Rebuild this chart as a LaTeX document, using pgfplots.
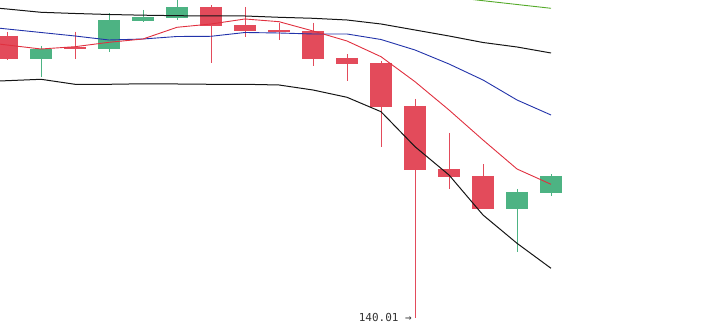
\documentclass[border=0pt]{standalone}
\usepackage{pgfplots}
\pgfplotsset{compat=1.18}
\usepackage{pgfplotstable}
\usepackage{fontspec}
\setmainfont{DejaVu Sans}
\setmonofont{DejaVu Sans Mono}
\definecolor{cred}{HTML}{E34B5B}
\definecolor{cgreen}{HTML}{4DB383}
\definecolor{lblue}{HTML}{2233AA}
\definecolor{lred}{HTML}{E0303F}
\definecolor{lgreen}{HTML}{55AA2A}
\definecolor{lblack}{HTML}{151515}

% red candles: open > close
\pgfplotstableread{
x   open    high    low     close
7   168.21  168.61  165.81  165.94
75  167.11  168.64  165.91  166.94
211 171.11  171.28  165.54  169.24
245 169.31  171.11  168.14  168.74
279 168.81  169.54  167.84  168.61
313 168.71  169.54  165.24  165.94
347 166.01  166.38  163.68  165.44
381 165.51  165.71  157.14  161.14
415 161.21  161.91  140.01  154.84
449 154.91  158.51  152.94  154.14
483 154.21  155.38  150.94  150.94
}\redc
% green candles: close > open
\pgfplotstableread{
x   open    high    low     close
41  165.94  167.21  164.14  166.91
109 166.94  170.48  166.64  169.81
143 169.74  170.81  169.61  170.11
177 170.04  172.01  169.84  171.11
517 150.94  152.91  146.64  152.61
551 152.54  154.38  152.24  154.21
}\greenc
\pgfplotstableread{
x   upper   mid     fast    lower
-27 171.21  169.26  167.71  163.61
7   170.91  168.91  167.31  163.74
41  170.58  168.56  166.91  163.88
75  170.46  168.21  167.14  163.38
109 170.36  167.81  167.58  163.38
143 170.29  167.91  167.91  163.43
177 170.24  168.16  169.08  163.41
211 170.21  168.18  169.41  163.38
245 170.21  168.56  169.91  163.38
279 170.08  168.51  169.64  163.31
313 169.98  168.41  168.71  162.81
347 169.81  168.41  167.71  162.08
381 169.41  167.86  166.14  160.64
415 168.81  166.81  163.64  157.14
449 168.21  165.41  160.81  154.31
483 167.56  163.81  157.81  150.31
517 167.11  161.81  154.91  147.48
551 166.51  160.31  153.38  144.98
}\lines
\pgfplotstableread{
x   slow
449 172.12
483 171.74
517 171.36
551 170.98
}\slowline

\begin{document}
\begin{tikzpicture}
\begin{axis}[
  width=707pt, height=328pt, scale only axis,
  xmin=0, xmax=707, ymin=139.01, ymax=171.81,
  hide axis, clip=true,
]
\path (rel axis cs:0,0) rectangle (rel axis cs:1,1);
% wicks
\addplot[draw=none, mark=none, forget plot,
  error bars/.cd, y dir=minus, y explicit, error mark=none,
  error bar style={draw=cred, line width=1pt}]
  table[x=x, y=high, y error expr=\thisrow{high}-\thisrow{low}] {\redc};
\addplot[draw=none, mark=none, forget plot,
  error bars/.cd, y dir=minus, y explicit, error mark=none,
  error bar style={draw=cgreen, line width=1pt}]
  table[x=x, y=high, y error expr=\thisrow{high}-\thisrow{low}] {\greenc};
% bodies
\addplot[draw=none, mark=none, forget plot,
  error bars/.cd, y dir=minus, y explicit, error mark=none,
  error bar style={draw=cred, line width=22pt}]
  table[x=x, y=open, y error expr=\thisrow{open}-\thisrow{close}] {\redc};
\addplot[draw=none, mark=none, forget plot,
  error bars/.cd, y dir=minus, y explicit, error mark=none,
  error bar style={draw=cgreen, line width=22pt}]
  table[x=x, y=close, y error expr=\thisrow{close}-\thisrow{open}] {\greenc};
% lines
\addplot[lblack, line width=1pt, mark=none] table[x=x, y=upper] {\lines};
\addplot[lblack, line width=1pt, mark=none] table[x=x, y=lower] {\lines};
\addplot[lblue, line width=0.9pt, mark=none] table[x=x, y=mid] {\lines};
\addplot[lred, line width=0.9pt, mark=none] table[x=x, y=fast] {\lines};
\addplot[lgreen, line width=0.9pt, mark=none] table[x=x, y=slow] {\slowline};
\node[anchor=east, inner sep=0pt, text=black!80, font=\ttfamily\fontsize{11}{13}\selectfont]
  at (axis cs:412,140.01) {140.01 →};
\end{axis}
\end{tikzpicture}
\end{document}
